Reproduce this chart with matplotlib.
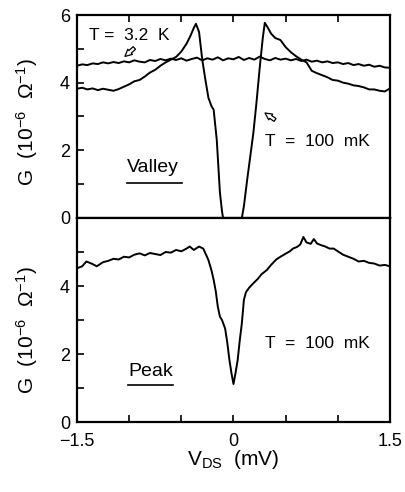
import matplotlib
matplotlib.use("Agg")
import matplotlib.pyplot as plt

plt.rcParams['font.family'] = ['Liberation Sans', 'DejaVu Sans']
plt.rcParams['mathtext.fontset'] = 'custom'
plt.rcParams['mathtext.rm'] = 'Liberation Sans'
plt.rcParams['mathtext.it'] = 'Liberation Sans'

# Valley, T = 100 mK
v_valley = [-1.50, -1.45, -1.40, -1.35, -1.30, -1.25, -1.20, -1.15, -1.10, -1.05,
            -1.00, -0.95, -0.90, -0.85, -0.80, -0.75, -0.70, -0.65, -0.60, -0.55,
            -0.50, -0.45, -0.41, -0.38, -0.36, -0.33, -0.30, -0.27, -0.24, -0.21,
            -0.19, -0.16, -0.13, -0.11, -0.10, -0.05, 0.00, 0.05, 0.08, 0.10,
            0.13, 0.16, 0.19, 0.22, 0.25, 0.28, 0.30, 0.33, 0.36, 0.40,
            0.45, 0.50, 0.55, 0.60, 0.65, 0.70, 0.75, 0.80, 0.85, 0.90,
            0.95, 1.00, 1.05, 1.10, 1.15, 1.20, 1.25, 1.30, 1.35, 1.40,
            1.45, 1.50]
g_valley = [3.82, 3.85, 3.80, 3.83, 3.78, 3.82, 3.79, 3.76, 3.81, 3.88,
            3.95, 4.04, 4.08, 4.18, 4.30, 4.38, 4.50, 4.60, 4.68, 4.76,
            4.92, 5.15, 5.40, 5.62, 5.74, 5.50, 4.70, 4.10, 3.55, 3.30,
            3.20, 2.30, 0.75, 0.20, 0.00, 0.00, 0.00, 0.00, 0.00, 0.35,
            1.10, 1.80, 2.50, 3.40, 4.40, 5.30, 5.77, 5.62, 5.45, 5.32,
            5.26, 5.05, 4.90, 4.78, 4.68, 4.60, 4.35, 4.28, 4.22, 4.16,
            4.08, 4.06, 4.00, 3.97, 3.92, 3.90, 3.86, 3.80, 3.80, 3.76,
            3.74, 3.83]

# Valley, T = 3.2 K
v_warm = [-1.50, -1.45, -1.40, -1.35, -1.30, -1.25, -1.20, -1.15, -1.10, -1.05,
          -1.00, -0.95, -0.90, -0.85, -0.80, -0.75, -0.70, -0.65, -0.60, -0.55,
          -0.50, -0.45, -0.40, -0.35, -0.30, -0.25, -0.20, -0.15, -0.10, -0.05,
          0.00, 0.05, 0.10, 0.15, 0.20, 0.25, 0.30, 0.35, 0.40, 0.45,
          0.50, 0.55, 0.60, 0.65, 0.70, 0.75, 0.80, 0.85, 0.90, 0.95,
          1.00, 1.05, 1.10, 1.15, 1.20, 1.25, 1.30, 1.35, 1.40, 1.45, 1.50]
g_warm = [4.50, 4.54, 4.52, 4.57, 4.55, 4.60, 4.57, 4.61, 4.58, 4.63,
          4.60, 4.66, 4.62, 4.60, 4.67, 4.64, 4.70, 4.66, 4.71, 4.67,
          4.72, 4.65, 4.70, 4.74, 4.66, 4.72, 4.68, 4.75, 4.66, 4.72,
          4.69, 4.76, 4.67, 4.73, 4.68, 4.77, 4.70, 4.66, 4.73, 4.68,
          4.71, 4.66, 4.70, 4.64, 4.68, 4.62, 4.65, 4.60, 4.63, 4.58,
          4.60, 4.55, 4.58, 4.52, 4.55, 4.50, 4.53, 4.47, 4.50, 4.45, 4.44]

# Peak, T = 100 mK
v_peak = [-1.50, -1.45, -1.41, -1.36, -1.31, -1.25, -1.20, -1.15, -1.10, -1.05,
          -1.00, -0.95, -0.90, -0.85, -0.80, -0.75, -0.70, -0.65, -0.60, -0.55,
          -0.50, -0.45, -0.42, -0.38, -0.33, -0.29, -0.26, -0.24, -0.21, -0.19,
          -0.17, -0.15, -0.13, -0.11, -0.08, -0.06, -0.04, -0.02, 0.00, 0.02,
          0.04, 0.06, 0.08, 0.10, 0.12, 0.15, 0.19, 0.23, 0.27, 0.32,
          0.36, 0.41, 0.45, 0.50, 0.54, 0.57, 0.61, 0.64, 0.67, 0.70,
          0.74, 0.77, 0.80, 0.84, 0.88, 0.92, 0.96, 1.00, 1.05, 1.10,
          1.15, 1.20, 1.25, 1.30, 1.35, 1.40, 1.45, 1.50]
g_peak = [4.52, 4.58, 4.72, 4.66, 4.58, 4.70, 4.74, 4.80, 4.78, 4.86,
          4.84, 4.92, 4.96, 4.90, 4.97, 4.94, 4.91, 5.00, 4.98, 5.06,
          5.02, 5.10, 5.16, 5.06, 5.16, 5.10, 4.90, 4.76, 4.45, 4.18,
          3.85, 3.39, 3.10, 3.00, 2.75, 2.35, 1.85, 1.45, 1.12, 1.45,
          1.82, 2.40, 2.90, 3.60, 3.82, 3.95, 4.08, 4.20, 4.35, 4.47,
          4.62, 4.78, 4.86, 4.95, 5.02, 5.10, 5.15, 5.22, 5.44, 5.28,
          5.24, 5.38, 5.25, 5.20, 5.16, 5.10, 5.10, 5.02, 4.92, 4.86,
          4.80, 4.72, 4.74, 4.68, 4.66, 4.60, 4.62, 4.58]

fig = plt.figure(figsize=(4.05, 4.92), dpi=100)
ax1 = fig.add_axes([0.190, 0.557, 0.773, 0.4125])
ax2 = fig.add_axes([0.190, 0.142, 0.773, 0.415])

lw = 1.4
ax1.plot(v_warm, g_warm, color='black', lw=lw)
ax1.plot(v_valley, g_valley, color='black', lw=lw)
ax2.plot(v_peak, g_peak, color='black', lw=lw)

for ax in (ax1, ax2):
    ax.set_xlim(-1.5, 1.5)
    ax.set_ylim(0, 6)
    for s in ax.spines.values():
        s.set_linewidth(1.6)
    ax.set_xticks([-1.5, -1.0, -0.5, 0, 0.5, 1.0, 1.5])
    ax.set_yticks([0, 1, 2, 3, 4, 5, 6])
    ax.tick_params(direction='in', length=5, width=1.2, labelsize=13,
                   right=False, pad=5)
    ax.set_ylabel('G  (10$^{-6}$  $\\Omega^{-1}$)', fontsize=15)

ax1.yaxis.set_label_coords(-0.118, 0.47)
ax2.yaxis.set_label_coords(-0.118, 0.45)

ax1.tick_params(axis='x', top=True, bottom=False, labelbottom=False)
ax1.set_yticklabels(['0', '', '2', '', '4', '', '6'])
ax2.set_yticklabels(['0', '', '2', '', '4', '', ''])
ax2.tick_params(axis='x', pad=7.5)
ax2.set_xticklabels(['\u22121.5', '', '', '0', '', '', '1.5'])
ax2.set_xlabel('V$_{\\mathrm{DS}}$  (mV)', fontsize=15, labelpad=-1)

txt = 12.5
ax1.text(-1.38, 5.40, 'T =  3.2  K', fontsize=txt, va='center')
ax1.text(0.30, 2.25, 'T  =  100  mK', fontsize=txt, va='center')
ax1.text(-1.02, 1.50, 'Valley', fontsize=14, va='center')
ax1.plot([-1.02, -0.49], [1.04, 1.04], color='black', lw=1.2)
ax2.text(0.30, 2.32, 'T  =  100  mK', fontsize=txt, va='center')
ax2.text(-1.01, 1.50, 'Peak', fontsize=14, va='center')
ax2.plot([-1.01, -0.58], [1.09, 1.09], color='black', lw=1.2)

arrow = dict(arrowstyle='simple,head_width=0.5,head_length=0.5,tail_width=0.25',
             facecolor='white', edgecolor='black', lw=0.9)
ax1.annotate('', xy=(-1.06, 4.72), xytext=(-0.93, 5.08), arrowprops=arrow)
ax1.annotate('', xy=(0.28, 3.15), xytext=(0.42, 2.85), arrowprops=arrow)

fig.savefig('out.png', dpi=100)
